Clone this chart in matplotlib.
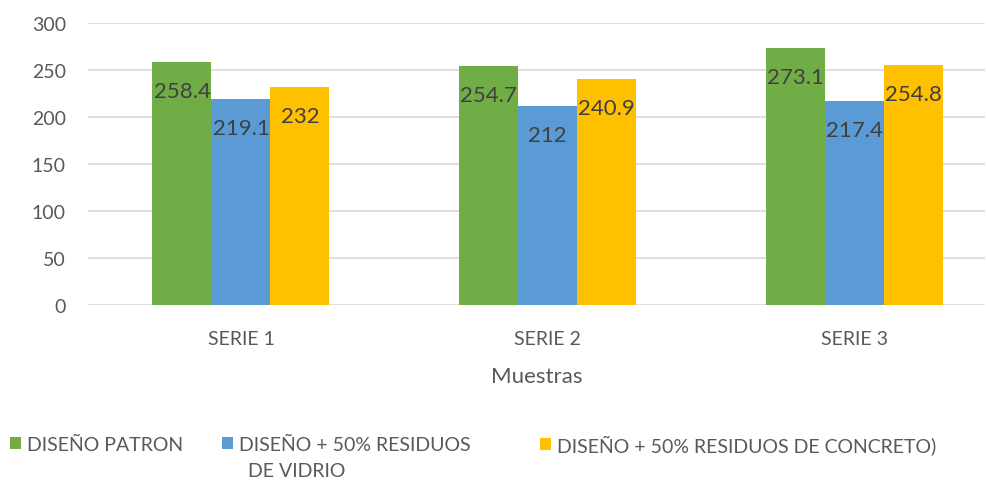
import numpy as np
import matplotlib
matplotlib.use('Agg')
import matplotlib.pyplot as plt
from matplotlib.patches import Patch

plt.rcParams['font.family'] = ['Lato', 'DejaVu Sans']

# datos
categorias = ['SERIE 1', 'SERIE 2', 'SERIE 3']
patron = [258.4, 254.7, 273.1]
vidrio = [219.1, 212, 217.4]
concreto = [232, 240.9, 254.8]
etiquetas = ['DISEÑO PATRON', 'DISEÑO + 50% RESIDUOS',
             'DISEÑO + 50% RESIDUOS DE CONCRETO)']
colores = ['#70ad47', '#5b9bd5', '#ffc000']

W, H = 987, 481
fig = plt.figure(figsize=(W / 100, H / 100), dpi=100)
ax = fig.add_axes([88 / W, 1 - 306 / H, (985 - 88) / W, (306 - 24) / H])

x = np.arange(len(categorias))
ancho = 0.1925
for i, (vals, col) in enumerate(zip([patron, vidrio, concreto], colores)):
    pos = x + (i - 1) * ancho
    bars = ax.bar(pos, vals, width=ancho, color=col, zorder=3)
    for b, v in zip(bars, vals):
        ax.annotate(f'{v:g}', (b.get_x() + b.get_width() / 2, v),
                    xytext=(0, -29), textcoords='offset pixels',
                    ha='center', va='center', fontsize=16, color='#404040', zorder=4)

ax.set_ylim(0, 300)
ax.set_yticks(range(0, 301, 50))
ax.set_xlim(-0.499, 2.427)
ax.set_xticks(x)
ax.set_xticklabels(categorias)
ax.grid(axis='y', color='#d9d9d9', linewidth=1.2, zorder=0)
for s in ax.spines.values():
    s.set_visible(False)
ax.tick_params(axis='both', length=0, labelsize=14, labelcolor='#595959')
ax.tick_params(axis='y', pad=16)
ax.tick_params(axis='x', pad=18)
ax.set_xlabel('Muestras', fontsize=16, color='#595959', labelpad=14)

# leyenda: una entrada por columna, como en Excel
pos_x = [2, 214, 532]
for c, lab, px in zip(colores, etiquetas, pos_x):
    fig.legend([Patch(facecolor=c)], [lab], loc='center left',
               bbox_to_anchor=(px / W, 1 - 445 / H), frameon=False,
               fontsize=14, labelcolor='#595959', borderaxespad=0,
               handlelength=0.6, handleheight=0.6, handletextpad=0.3)
fig.text(248 / W, 1 - 472 / H, 'DE VIDRIO', fontsize=14, color='#595959',
         ha='left', va='center')

fig.savefig('out.png', dpi=100)
